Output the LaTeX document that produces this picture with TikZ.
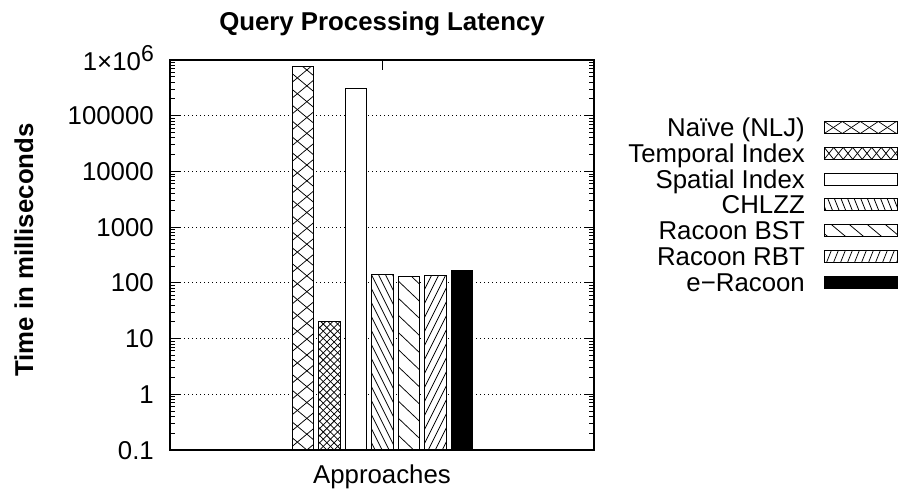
\documentclass[tikz,border=0pt]{standalone}
\usepackage{fontspec}
\setmainfont{Liberation Sans}
\tikzset{
  frame/.style={line width=1.4pt},
  tickline/.style={line width=0.9pt},
  gridline/.style={line width=0.9pt, dash pattern=on 1pt off 3pt},
  baredge/.style={draw=black, line width=1pt},
  hatchline/.style={line width=0.75pt},
  lbl/.style={font=\fontsize{25.8}{30}\selectfont, inner sep=0pt},
  ttl/.style={font=\bfseries\fontsize{25.8}{30}\selectfont, inner sep=0pt},
}
% x1 y1 x2 y2 spacing slope(dx/dy)
\newcommand\hatchrect[6]{%
  \begin{scope}
  \clip (#1,#2) rectangle (#3,#4);
  \pgfmathsetmacro\lfH{#4-#2}
  \pgfmathsetmacro\lfR{abs(#6)*\lfH}
  \pgfmathtruncatemacro\lfN{ceil((#3-#1+2*\lfR)/#5)+1}
  \foreach \k in {0,...,\lfN}{
    \pgfmathsetmacro\lfx{#1-\lfR+\k*#5}
    \draw[hatchline] (\lfx,#2) -- ++({#6*\lfH},\lfH);
  }
  \end{scope}}
\begin{document}
\begin{tikzpicture}[x=1pt,y=1pt]
\useasboundingbox (0,0) rectangle (899,493);
\def\dec{55.714}
% grid
\foreach \k in {1,...,6}{
  \draw[gridline] (180,{43+\k*\dec}) -- (584,{43+\k*\dec});
}
% ticks
\foreach \k in {0,...,7}{
  \draw[tickline] (170,{43+\k*\dec}) -- ++(10,0);
  \draw[tickline] (594,{43+\k*\dec}) -- ++(-10,0);
}
\foreach \k in {0,...,6}{
  \foreach \m in {2,...,9}{
    \draw[tickline] (170,{43+(\k+log10(\m))*\dec}) -- ++(5,0);
    \draw[tickline] (594,{43+(\k+log10(\m))*\dec}) -- ++(-5,0);
  }
}
\draw[tickline] (382,433) -- (382,423);
\draw[tickline] (382,43) -- (382,53);
% tick labels
\node[lbl, anchor=base east] (t0) at (154,{43+0*\dec-9}) {0.1};
\node[lbl, anchor=base east] (t1) at (154,{43+1*\dec-9}) {1};
\node[lbl, anchor=base east] (t2) at (154,{43+2*\dec-9}) {10};
\node[lbl, anchor=base east] (t3) at (154,{43+3*\dec-9}) {100};
\node[lbl, anchor=base east] (t4) at (154,{43+4*\dec-9}) {1000};
\node[lbl, anchor=base east] (t5) at (154,{43+5*\dec-9}) {10000};
\node[lbl, anchor=base east] (t6) at (154,{43+6*\dec-9}) {100000};
\node[lbl, anchor=base east] (t7) at (154,422) {1×10\raisebox{9pt}{\fontsize{23}{26}\selectfont 6}};
% bars
% Naive
\fill[white] (292.3,43) rectangle (313.8,426.7);
\hatchrect{292.3}{43}{313.8}{426.7}{19}{1.2}
\hatchrect{292.3}{43}{313.8}{426.7}{19}{-1.2}
\draw[baredge] (292.3,43) rectangle (313.8,426.7);
% Temporal
\fill[white] (318.75,43) rectangle (340.25,171.7);
\hatchrect{318.75}{43}{340.25}{171.7}{7.2}{1}
\hatchrect{318.75}{43}{340.25}{171.7}{7.2}{-1}
\draw[baredge] (318.75,43) rectangle (340.25,171.7);
% Spatial
\draw[baredge, fill=white] (345.2,43) rectangle (366.7,404.7);
% CHLZZ
\fill[white] (371.65,43) rectangle (393.15,218);
\hatchrect{371.65}{43}{393.15}{218}{7}{-0.5}
\draw[baredge] (371.65,43) rectangle (393.15,218);
% BST
\fill[white] (398.1,43) rectangle (419.6,216.7);
\hatchrect{398.1}{43}{419.6}{216.7}{18}{-1.05}
\draw[baredge] (398.1,43) rectangle (419.6,216.7);
% RBT
\fill[white] (424.55,43) rectangle (446.05,217.7);
\hatchrect{424.55}{43}{446.05}{217.7}{7}{0.5}
\draw[baredge] (424.55,43) rectangle (446.05,217.7);
% e-Racoon
\draw[baredge, fill=black] (451,43) rectangle (472.5,222);
% frame
\draw[frame] (170,43) rectangle (594,433);
% labels
\node[ttl, anchor=base] (title) at (382,462) {Query Processing Latency};
\node[lbl, anchor=base] (xlab) at (382,10) {Approaches};
\node[ttl, anchor=base, rotate=90] (ylab) at (33,243) {Time in milliseconds};
% legend
\node[lbl, anchor=base east] (l0) at (805,{365.5-9}) {Naïve (NLJ)};
\node[lbl, anchor=base east] (l1) at (805,{339.7-9}) {Temporal Index};
\node[lbl, anchor=base east] (l2) at (805,{313.9-9}) {Spatial Index};
\node[lbl, anchor=base east] (l3) at (805,{288.1-9}) {CHLZZ};
\node[lbl, anchor=base east] (l4) at (805,{262.3-9}) {Racoon BST};
\node[lbl, anchor=base east] (l5) at (805,{236.5-9}) {Racoon RBT};
\node[lbl, anchor=base east] (l6) at (805,{210.7-9}) {e\textminus Racoon};
% legend samples
\hatchrect{824.3}{359.5}{897}{371.5}{18}{1.5}
\hatchrect{824.3}{359.5}{897}{371.5}{18}{-1.5}
\draw[baredge] (824.3,359.5) rectangle (897,371.5);
\hatchrect{824.3}{333.7}{897}{345.7}{9.5}{0.8}
\hatchrect{824.3}{333.7}{897}{345.7}{9.5}{-0.8}
\draw[baredge] (824.3,333.7) rectangle (897,345.7);
\draw[baredge] (824.3,307.9) rectangle (897,319.9);
\hatchrect{824.3}{282.1}{897}{294.1}{6.6}{-0.4}
\draw[baredge] (824.3,282.1) rectangle (897,294.1);
\hatchrect{824.3}{256.3}{897}{268.3}{18}{-1.2}
\draw[baredge] (824.3,256.3) rectangle (897,268.3);
\hatchrect{824.3}{230.5}{897}{242.5}{7}{0.4}
\draw[baredge] (824.3,230.5) rectangle (897,242.5);
\draw[baredge, fill=black] (824.3,204.7) rectangle (897,216.7);
\end{tikzpicture}
\end{document}
